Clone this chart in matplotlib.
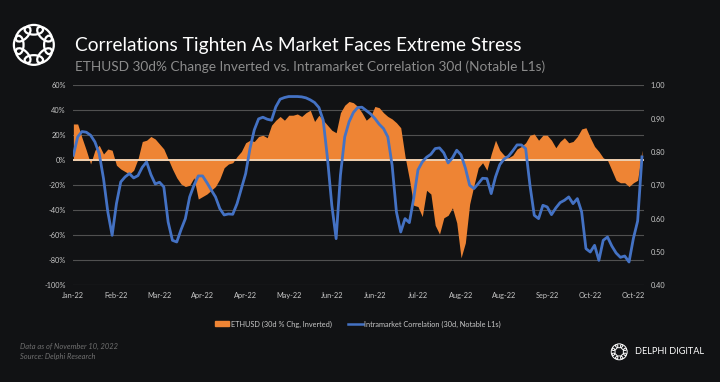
import matplotlib
matplotlib.use("Agg")
import matplotlib.pyplot as plt
import numpy as np
from matplotlib.patches import Ellipse, Patch
from matplotlib.lines import Line2D
from matplotlib.ticker import FuncFormatter, MultipleLocator

plt.rcParams['font.family'] = ['Lato', 'DejaVu Sans']

# x tick labels (category axis, one label every 10 points)
tick_labels = ["Jan-22", "Feb-22", "Mar-22", "Apr-22", "Apr-22", "May-22", "Jun-22",
               "Jun-22", "Jul-22", "Aug-22", "Aug-22", "Sep-22", "Oct-22", "Oct-22"]

# ETHUSD 30d % change, inverted (%)
eth_inv = [29, 29, 18, 8, -3, 8, 12, 5, 9, 8,
           -4, -7, -9, -11, -8, 1, 15, 16, 19, 17,
           13, 9, 1, -7, -14, -19, -21, -20, -14, -31,
           -29, -27, -24, -21, -15, -6, -3, -2, 3, 7,
           14, 16, 15, 19, 20, 18, 28, 32, 35, 32,
           36, 36, 37, 35, 38, 40, 31, 36, 32, 28,
           24, 22, 38, 44, 47, 46, 43, 38, 32, 35,
           43, 42, 38, 35, 33, 30, 26, 3, -15, -36,
           -37, -45, -24, -27, -52, -59, -46, -44, -38, -50,
           -78, -66, -35, -20, -6, -2, -8, 5, 16, 8,
           4, 2, 4, 9, 11, 14, 20, 21, 16, 20,
           20, 16, 10, 15, 18, 14, 15, 19, 25, 26,
           18, 11, 7, 2, 0, -8, -16, -18, -18, -21,
           -18, -16, 8]

# Intramarket correlation, 30d, notable L1s
corr = [0.790, 0.845, 0.861, 0.859, 0.850, 0.830, 0.795, 0.720, 0.620, 0.550,
        0.645, 0.710, 0.725, 0.735, 0.722, 0.729, 0.754, 0.770, 0.732, 0.704,
        0.709, 0.695, 0.590, 0.535, 0.530, 0.567, 0.600, 0.665, 0.700, 0.728,
        0.728, 0.708, 0.686, 0.665, 0.630, 0.611, 0.614, 0.613, 0.645, 0.690,
        0.735, 0.810, 0.866, 0.899, 0.904, 0.898, 0.895, 0.935, 0.958, 0.963,
        0.966, 0.966, 0.966, 0.965, 0.962, 0.956, 0.948, 0.933, 0.895, 0.780,
        0.640, 0.540, 0.730, 0.845, 0.890, 0.918, 0.933, 0.934, 0.924, 0.914,
        0.900, 0.883, 0.870, 0.845, 0.760, 0.620, 0.560, 0.600, 0.588, 0.660,
        0.746, 0.770, 0.784, 0.793, 0.810, 0.812, 0.797, 0.767, 0.782, 0.805,
        0.791, 0.752, 0.700, 0.690, 0.705, 0.721, 0.720, 0.675, 0.725, 0.762,
        0.779, 0.787, 0.803, 0.821, 0.821, 0.810, 0.700, 0.610, 0.600, 0.640,
        0.635, 0.612, 0.632, 0.648, 0.655, 0.665, 0.645, 0.660, 0.620, 0.510,
        0.500, 0.520, 0.475, 0.535, 0.545, 0.518, 0.497, 0.484, 0.488, 0.470,
        0.540, 0.593, 0.785]

BG = "#111214"
ORANGE = "#ee8434"
BLUE = "#4472c4"
TXT = "#c8c8c8"

x = np.arange(len(eth_inv))

fig = plt.figure(figsize=(7.2, 3.82), dpi=100, facecolor=BG)
ax = fig.add_axes([0.101, 0.253, 0.793, 0.524])
ax.set_facecolor(BG)

ax.fill_between(x, 0, eth_inv, color=ORANGE, linewidth=0, zorder=2)
ax.axhline(0, color="#f0d0b0", lw=1.4, zorder=3)
ax.set_ylim(-100, 60)
ax.yaxis.set_major_locator(MultipleLocator(20))
ax.yaxis.set_major_formatter(FuncFormatter(lambda v, p: f"{v:.0f}%"))
ax.grid(axis="y", color="#505050", lw=0.8, zorder=0)
ax.set_axisbelow(True)
ax.set_xlim(-0.15, 132.4)
ax.set_xticks(np.arange(len(tick_labels)) * 10)
ax.set_xticklabels(tick_labels)

ax2 = ax.twinx()
ax2.plot(x, corr, color=BLUE, lw=2.0, zorder=4)
ax2.set_ylim(0.4, 1.0)
ax2.yaxis.set_major_locator(MultipleLocator(0.1))
ax2.yaxis.set_major_formatter(FuncFormatter(lambda v, p: f"{v:.2f}"))

for a in (ax, ax2):
    for s in a.spines.values():
        s.set_visible(False)
    a.tick_params(length=0, colors=TXT, labelsize=5.3, pad=5)

# legend
handles = [Patch(color=ORANGE), Line2D([0], [0], color=BLUE, lw=1.8)]
fig.legend(handles, ["ETHUSD (30d % Chg, Inverted)", "Intramarket Correlation (30d, Notable L1s)"],
           loc="center", bbox_to_anchor=(0.497, 0.152), ncol=2, frameon=False,
           fontsize=5.3, labelcolor=TXT, handlelength=2.0, handleheight=0.7,
           columnspacing=2.2, handletextpad=0.2)

# titles
fig.text(0.104, 0.882, "Correlations Tighten As Market Faces Extreme Stress",
         color="white", fontsize=13.8, va="center")
fig.text(0.104, 0.825, "ETHUSD 30d% Change Inverted vs. Intramarket Correlation 30d (Notable L1s)",
         color="#8c8c8c", fontsize=9.85, va="center")

# footer
fig.text(0.028, 0.094, "Data as of November 10, 2022", color="#707070", fontsize=5.4,
         style="italic", va="center")
fig.text(0.028, 0.066, "Source: Delphi Research", color="#707070", fontsize=5.4,
         style="italic", va="center")
fig.text(0.882, 0.079, "DELPHI DIGITAL", color="white", fontsize=6.6, va="center")

# logos (simple ring of links)
def ring_logo(rect, lw):
    la = fig.add_axes(rect)
    la.set_xlim(-1.3, 1.3)
    la.set_ylim(-1.3, 1.3)
    la.set_aspect("equal")
    la.axis("off")
    for k in range(8):
        ang = k * np.pi / 4
        la.add_patch(Ellipse((0.78 * np.cos(ang), 0.78 * np.sin(ang)), 0.95, 0.5,
                             angle=np.degrees(ang) + 90, fill=False, ec="white", lw=lw))

ring_logo([0.012, 0.815, 0.07, 0.135], 1.6)
ring_logo([0.846, 0.05, 0.028, 0.058], 0.7)

fig.savefig("out.png", dpi=100, facecolor=BG)
